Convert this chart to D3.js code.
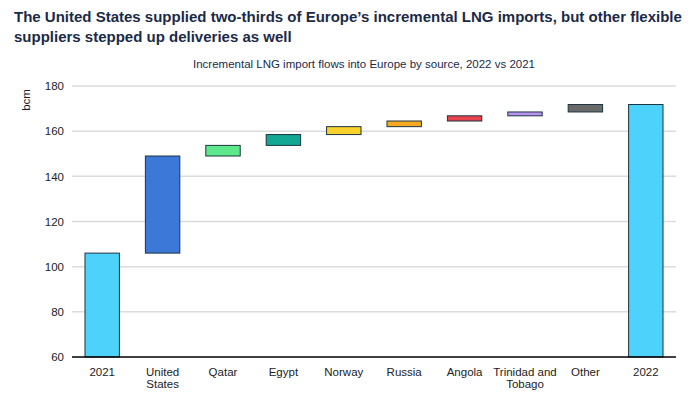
<!DOCTYPE html>
<html>
<head>
<meta charset="utf-8">
<script src="https://cdn.jsdelivr.net/npm/d3@7.9.0/dist/d3.min.js"></script>
<style>
  body { margin: 0; background: #fff; }
  svg { display: block; font-family: "Liberation Sans", Arial, sans-serif; }
</style>
</head>
<body>
<svg id="chart" width="700" height="398"></svg>
<script>
// categories and values (bcm)
const categories = ["2021", "United States", "Qatar", "Egypt", "Norway", "Russia", "Angola", "Trinidad and Tobago", "Other", "2022"];
const labelLines = [["2021"], ["United", "States"], ["Qatar"], ["Egypt"], ["Norway"], ["Russia"], ["Angola"], ["Trinidad and", "Tobago"], ["Other"], ["2022"]];
const increments = [106, 43, 4.7, 4.8, 3.5, 2.5, 2.3, 1.7, 3.3, null]; // last = total
const colors = ["#4dd3fb", "#3c78d8", "#5ee88c", "#13a894", "#f8d12b", "#f5a920", "#e8434c", "#b694f0", "#6a6a6a", "#4dd3fb"];
const yTicks = [60, 80, 100, 120, 140, 160, 180];

// build waterfall segments
let running = 0;
const bars = categories.map((c, i) => {
  let y0, y1;
  if (i === 0) { y0 = 60; y1 = increments[0]; running = y1; }
  else if (increments[i] === null) { y0 = 60; y1 = running; }
  else { y0 = running; running += increments[i]; y1 = running; }
  return { cat: c, y0, y1, color: colors[i], lines: labelLines[i] };
});

const svg = d3.select("#chart");
const margin = { top: 86, right: 24, bottom: 41, left: 72 };
const width = 700 - margin.left - margin.right;
const height = 398 - margin.top - margin.bottom;

// titles
const title = svg.append("text")
  .attr("x", 14).attr("y", 22)
  .attr("font-size", "15px").attr("font-weight", "bold")
  .attr("fill", "#1b2a47");
title.append("tspan").attr("x", 14).attr("dy", 0)
  .text("The United States supplied two-thirds of Europe\u2019s incremental LNG imports, but other flexible");
title.append("tspan").attr("x", 14).attr("dy", 20)
  .text("suppliers stepped up deliveries as well");

svg.append("text")
  .attr("x", 364).attr("y", 68)
  .attr("text-anchor", "middle")
  .attr("font-size", "11.5px").attr("fill", "#1b2a47")
  .text("Incremental LNG import flows into Europe by source, 2022 vs 2021");

const g = svg.append("g").attr("transform", `translate(${margin.left},${margin.top})`);

const x = d3.scaleBand().domain(categories).range([0, width]).paddingInner(0.43).paddingOuter(0.215);
const y = d3.scaleLinear().domain([60, 180]).range([height, 0]);

// gridlines
g.append("g")
  .selectAll("line")
  .data(yTicks.slice(1))
  .enter().append("line")
  .attr("x1", 0).attr("x2", width)
  .attr("y1", d => y(d)).attr("y2", d => y(d))
  .attr("stroke", "#dcdcdc").attr("stroke-width", 1.5);

// y axis labels
const yAxis = g.append("g")
  .call(d3.axisLeft(y).tickValues(yTicks).tickSize(0).tickPadding(8));
yAxis.select(".domain").remove();
yAxis.selectAll("text").attr("font-size", "11.5px").attr("fill", "#222")
  .attr("font-family", "Liberation Sans, Arial, sans-serif");

g.append("text")
  .attr("transform", "rotate(-90)")
  .attr("x", -14).attr("y", -42)
  .attr("text-anchor", "middle")
  .attr("font-size", "11.5px").attr("fill", "#222")
  .text("bcm");

// bars
g.selectAll(".bar")
  .data(bars)
  .enter().append("rect")
  .attr("class", "bar")
  .attr("x", d => x(d.cat))
  .attr("width", x.bandwidth())
  .attr("y", d => y(d.y1))
  .attr("height", d => y(d.y0) - y(d.y1))
  .attr("fill", d => d.color)
  .attr("stroke", "#1e3440")
  .attr("stroke-width", 1);

// baseline
g.append("line")
  .attr("x1", 0).attr("x2", width)
  .attr("y1", height).attr("y2", height)
  .attr("stroke", "#000").attr("stroke-width", 1.5);

// x labels
const xl = g.append("g").selectAll("text")
  .data(bars)
  .enter().append("text")
  .attr("x", d => x(d.cat) + x.bandwidth() / 2)
  .attr("y", height + 19)
  .attr("text-anchor", "middle")
  .attr("font-size", "11.5px").attr("fill", "#222");
xl.each(function(d) {
  d.lines.forEach((l, i) => {
    d3.select(this).append("tspan")
      .attr("x", x(d.cat) + x.bandwidth() / 2)
      .attr("dy", i === 0 ? 0 : 12)
      .text(l);
  });
});
</script>
</body>
</html>
